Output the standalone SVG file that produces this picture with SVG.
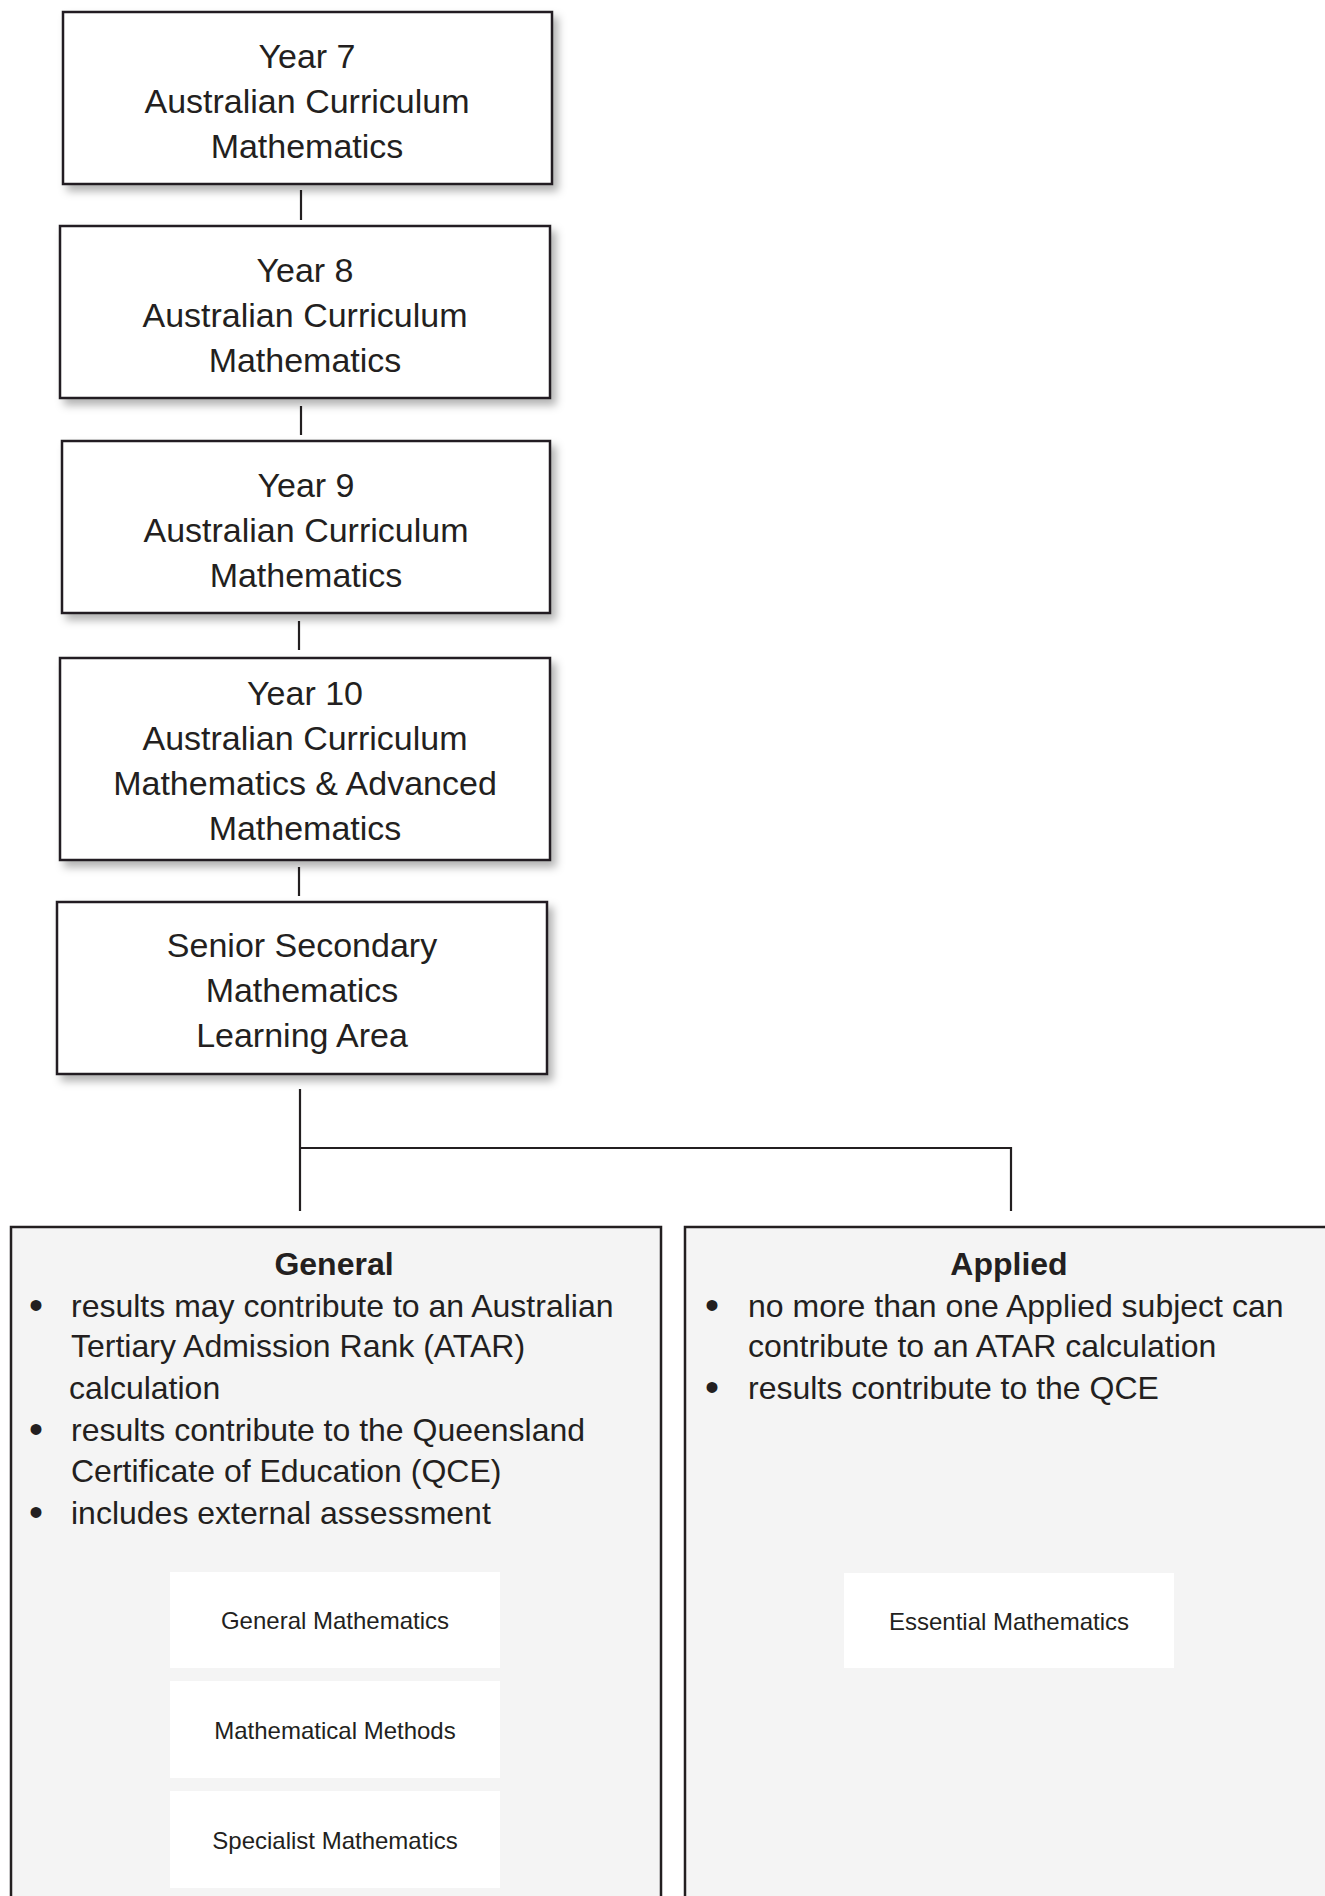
<svg xmlns="http://www.w3.org/2000/svg" width="1325" height="1896" viewBox="0 0 1325 1896">
<style>
  .t { font-family: "Liberation Sans", Arial, sans-serif; fill: #231f20; }
  .big { font-size: 34px; text-anchor: middle; }
  .bul { font-size: 32px; }
  .dot { font-size: 40px; }
  .ttl { font-size: 32px; font-weight: bold; text-anchor: middle; }
  .sm { font-size: 24px; text-anchor: middle; }
  .box { fill: #ffffff; stroke: #231f20; stroke-width: 2.5; }
  .panel { fill: #f4f4f4; stroke: #231f20; stroke-width: 2.5; }
  .sub { fill: #ffffff; }
  .conn { stroke: #231f20; stroke-width: 2.2; fill: none; }
</style>
<defs>
  <filter id="sh" x="-10%" y="-10%" width="125%" height="135%">
    <feDropShadow dx="5" dy="6" stdDeviation="4" flood-color="#000000" flood-opacity="0.3"/>
  </filter>
</defs>
<rect width="1325" height="1896" fill="#ffffff"/>

<g id="connectors">
  <line class="conn" x1="301" y1="190" x2="301" y2="220"/>
  <line class="conn" x1="301" y1="406" x2="301" y2="435"/>
  <line class="conn" x1="299" y1="621" x2="299" y2="650"/>
  <line class="conn" x1="299" y1="867" x2="299" y2="896"/>
  <path class="conn" d="M300 1089 V1211 M300 1148 H1011 V1211"/>
</g>

<g id="year7">
  <rect class="box" x="63" y="12" width="489" height="172" filter="url(#sh)"/>
  <text class="t big" x="307" y="68">Year 7</text>
  <text class="t big" x="307" y="113">Australian Curriculum</text>
  <text class="t big" x="307" y="158">Mathematics</text>
</g>

<g id="year8">
  <rect class="box" x="60" y="226" width="490" height="172" filter="url(#sh)"/>
  <text class="t big" x="305" y="282">Year 8</text>
  <text class="t big" x="305" y="327">Australian Curriculum</text>
  <text class="t big" x="305" y="372">Mathematics</text>
</g>

<g id="year9">
  <rect class="box" x="62" y="441" width="488" height="172" filter="url(#sh)"/>
  <text class="t big" x="306" y="497">Year 9</text>
  <text class="t big" x="306" y="542">Australian Curriculum</text>
  <text class="t big" x="306" y="587">Mathematics</text>
</g>

<g id="year10">
  <rect class="box" x="60" y="658" width="490" height="202" filter="url(#sh)"/>
  <text class="t big" x="305" y="705">Year 10</text>
  <text class="t big" x="305" y="750">Australian Curriculum</text>
  <text class="t big" x="305" y="795">Mathematics &amp; Advanced</text>
  <text class="t big" x="305" y="840">Mathematics</text>
</g>

<g id="senior">
  <rect class="box" x="57" y="902" width="490" height="172" filter="url(#sh)"/>
  <text class="t big" x="302" y="957">Senior Secondary</text>
  <text class="t big" x="302" y="1002">Mathematics</text>
  <text class="t big" x="302" y="1047">Learning Area</text>
</g>

<g id="general">
  <rect class="panel" x="11" y="1227" width="650" height="690"/>
  <text class="t ttl" x="334" y="1275">General</text>
  <text class="t dot" x="29" y="1319">•</text>
  <text class="t bul" x="71" y="1317">results may contribute to an Australian</text>
  <text class="t bul" x="71" y="1357">Tertiary Admission Rank (ATAR)</text>
  <text class="t bul" x="69" y="1399">calculation</text>
  <text class="t dot" x="29" y="1443">•</text>
  <text class="t bul" x="71" y="1441">results contribute to the Queensland</text>
  <text class="t bul" x="71" y="1482">Certificate of Education (QCE)</text>
  <text class="t dot" x="29" y="1526">•</text>
  <text class="t bul" x="71" y="1524">includes external assessment</text>
</g>

<g id="general-maths">
  <rect class="sub" x="170" y="1572" width="330" height="96"/>
  <text class="t sm" x="335" y="1629">General Mathematics</text>
</g>
<g id="math-methods">
  <rect class="sub" x="170" y="1681" width="330" height="97"/>
  <text class="t sm" x="335" y="1739">Mathematical Methods</text>
</g>
<g id="specialist-maths">
  <rect class="sub" x="170" y="1791" width="330" height="97"/>
  <text class="t sm" x="335" y="1849">Specialist Mathematics</text>
</g>

<g id="applied">
  <rect class="panel" x="685" y="1227" width="660" height="690"/>
  <text class="t ttl" x="1009" y="1275">Applied</text>
  <text class="t dot" x="705" y="1319">•</text>
  <text class="t bul" x="748" y="1317">no more than one Applied subject can</text>
  <text class="t bul" x="748" y="1357">contribute to an ATAR calculation</text>
  <text class="t dot" x="705" y="1401">•</text>
  <text class="t bul" x="748" y="1399">results contribute to the QCE</text>
</g>

<g id="essential-maths">
  <rect class="sub" x="844" y="1573" width="330" height="95"/>
  <text class="t sm" x="1009" y="1630">Essential Mathematics</text>
</g>
</svg>
